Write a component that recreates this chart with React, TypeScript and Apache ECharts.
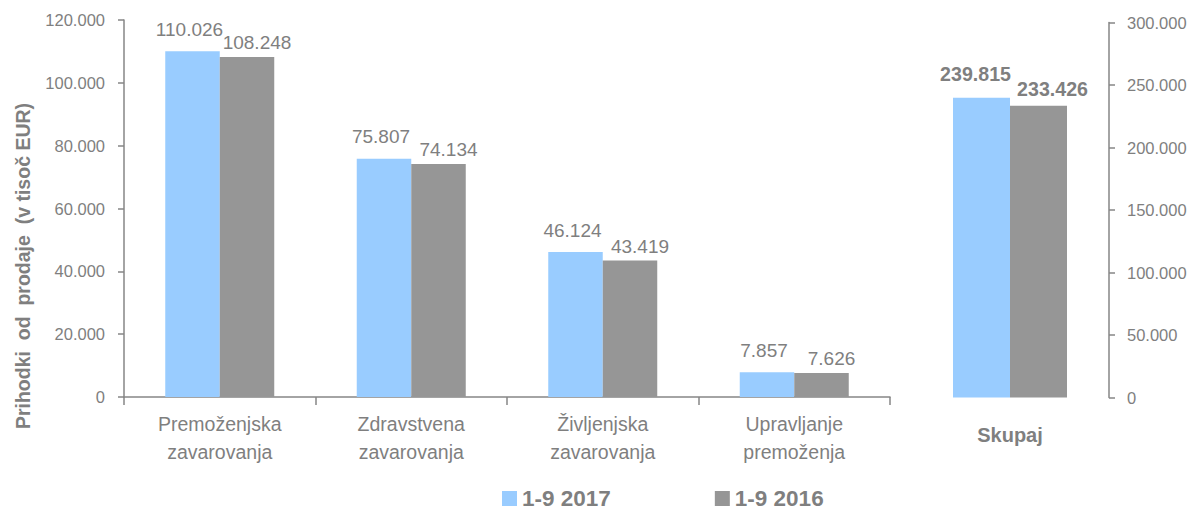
import React, { useEffect, useRef } from "react";
import * as echarts from "echarts";

const categories = ["Premoženjska\nzavarovanja", "Zdravstvena\nzavarovanja", "Življenjska\nzavarovanja", "Upravljanje\npremoženja"];
const totalCategory = ["Skupaj"];
const values2017 = [110026, 75807, 46124, 7857];
const values2016 = [108248, 74134, 43419, 7626];
const total2017 = [239815];
const total2016 = [233426];
const leftTicks = { min: 0, max: 120000, interval: 20000 };
const rightTicks = { min: 0, max: 300000, interval: 50000 };
const seriesNames = ["1-9 2017", "1-9 2016"];
const yAxisTitle = "Prihodki  od  prodaje  (v tisoč EUR)";

const FONT = '"Liberation Sans", Arial, sans-serif';
const TXT = "#7f7f7f";
const AX = "#868686";
const BLUE = "#99ccff";
const GRAY = "#969696";

const fmt = (n: number) => String(n).replace(/\B(?=(\d{3})+(?!\d))/g, ".");

export default function App() {
  const ref = useRef<HTMLDivElement>(null);
  useEffect(() => {
    document.body.style.margin = "0";
    const chart = echarts.init(ref.current!, null, { renderer: "svg" });
    const axisCommon = {
      axisLine: { show: true, lineStyle: { color: AX, width: 1.5 } },
      axisTick: { show: true, length: 6, lineStyle: { color: AX, width: 1.5 } },
      splitLine: { show: false },
      axisLabel: { color: TXT, fontFamily: FONT, fontSize: 16.5, formatter: (v: number) => fmt(v) },
    };
    const labelStyle = (dist: number, dx: number, bold: boolean) => ({
      show: true,
      position: "top",
      distance: dist,
      offset: [dx, 0],
      color: TXT,
      fontFamily: FONT,
      fontSize: bold ? 19.6 : 19,
      fontWeight: bold ? "bold" : "normal",
      formatter: (p: any) => fmt(p.value),
    });
    chart.setOption({
      animation: false,
      backgroundColor: "#ffffff",
      grid: [
        { left: 124, top: 20, width: 766, height: 377 },
        { left: 911, top: 22.5, width: 198, height: 375 },
      ],
      legend: {
        data: seriesNames,
        left: 497,
        top: 482,
        itemWidth: 15,
        itemHeight: 15,
        itemGap: 104,
        icon: "rect",
        textStyle: { color: TXT, fontFamily: FONT, fontSize: 22.5, fontWeight: "bold" },
      },
      xAxis: [
        {
          type: "category",
          gridIndex: 0,
          data: categories,
          axisLine: { show: true, lineStyle: { color: AX, width: 1.5 } },
          axisTick: { show: true, length: 8, lineStyle: { color: AX, width: 1.5 } },
          axisLabel: { color: TXT, fontFamily: FONT, fontSize: 19.5, lineHeight: 28, margin: 13, interval: 0 },
        },
        {
          type: "category",
          gridIndex: 1,
          data: totalCategory,
          axisLine: { show: false },
          axisTick: { show: false },
          axisLabel: { color: TXT, fontFamily: FONT, fontSize: 20, fontWeight: "bold", lineHeight: 28, margin: 23 },
        },
      ],
      yAxis: [
        { type: "value", gridIndex: 0, position: "left", ...leftTicks, ...axisCommon, axisLabel: { ...axisCommon.axisLabel, margin: 19 } },
        { type: "value", gridIndex: 1, position: "right", ...rightTicks, ...axisCommon, axisLabel: { ...axisCommon.axisLabel, margin: 18 } },
      ],
      series: [
        { name: seriesNames[0], type: "bar", xAxisIndex: 0, yAxisIndex: 0, data: values2017, barWidth: 54.5, barGap: "0%", itemStyle: { color: BLUE }, label: labelStyle(12.5, -3, false) },
        { name: seriesNames[1], type: "bar", xAxisIndex: 0, yAxisIndex: 0, data: values2016, barWidth: 54.5, barGap: "0%", itemStyle: { color: GRAY }, label: labelStyle(5, 10, false) },
        { name: seriesNames[0], type: "bar", xAxisIndex: 1, yAxisIndex: 1, data: total2017, barWidth: 57, barGap: "0%", itemStyle: { color: BLUE }, label: labelStyle(14, -6, true) },
        { name: seriesNames[1], type: "bar", xAxisIndex: 1, yAxisIndex: 1, data: total2016, barWidth: 57, barGap: "0%", itemStyle: { color: GRAY }, label: labelStyle(7, 14, true) },
      ],
      graphic: [
        {
          type: "text",
          x: 23,
          y: 266,
          rotation: Math.PI / 2,
          style: {
            text: yAxisTitle,
            fill: TXT,
            fontFamily: FONT,
            fontSize: 19.5,
            fontWeight: "bold",
            textAlign: "center",
            textVerticalAlign: "middle",
          },
        },
      ],
    });
    return () => chart.dispose();
  }, []);
  return <div ref={ref} style={{ width: 1192, height: 510 }} />;
}
